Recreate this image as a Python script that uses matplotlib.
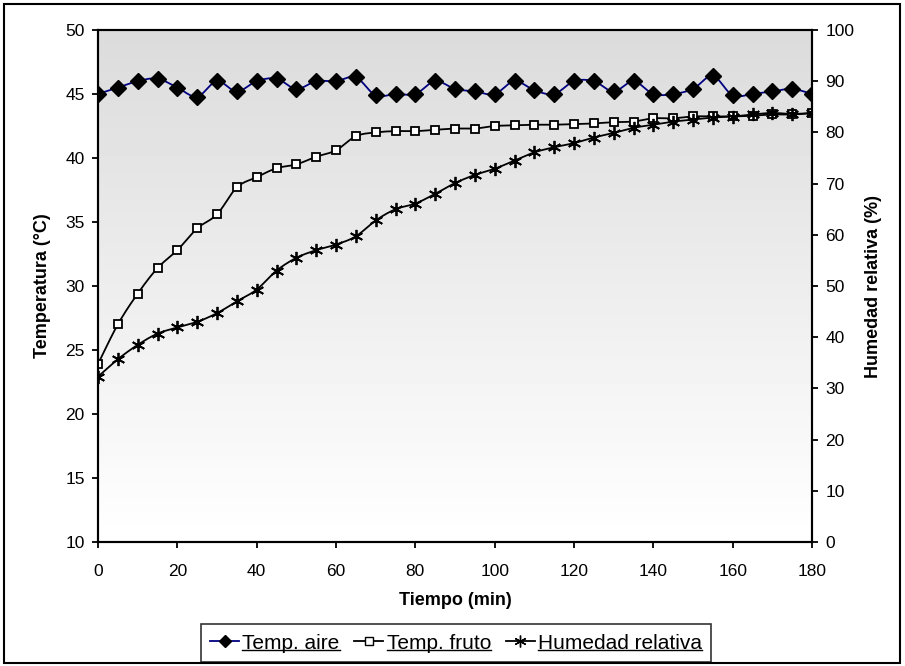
import matplotlib
matplotlib.use("Agg")
import matplotlib.pyplot as plt
import numpy as np
from matplotlib.lines import Line2D
from matplotlib.patches import Rectangle

plt.rcParams['font.family'] = ['Liberation Sans', 'DejaVu Sans']

tiempo = np.arange(0, 181, 5)

temp_aire = [45.0, 45.5, 46.0, 46.2, 45.5, 44.8, 46.0, 45.2, 46.0, 46.2,
             45.4, 46.0, 46.0, 46.3, 44.9, 45.0, 45.0, 46.0, 45.4, 45.2,
             45.0, 46.0, 45.3, 45.0, 46.0, 46.0, 45.2, 46.0, 45.0, 45.0,
             45.4, 46.4, 44.9, 45.0, 45.2, 45.4, 45.0]

temp_fruto = [23.9, 27.0, 29.4, 31.4, 32.8, 34.5, 35.6, 37.7, 38.5, 39.2,
              39.5, 40.1, 40.6, 41.7, 42.0, 42.1, 42.1, 42.2, 42.3, 42.3,
              42.5, 42.55, 42.6, 42.6, 42.65, 42.7, 42.8, 42.85, 43.1, 43.1,
              43.25, 43.25, 43.25, 43.3, 43.4, 43.4, 43.5]

humedad = [32.3, 35.7, 38.5, 40.7, 41.9, 43.0, 44.7, 47.0, 49.3, 53.0,
           55.5, 57.0, 58.1, 59.7, 62.8, 65.0, 66.1, 68.0, 70.1, 71.7,
           72.9, 74.5, 76.1, 77.1, 77.9, 79.0, 79.9, 80.9, 81.5, 82.1,
           82.5, 82.9, 83.1, 83.5, 83.8, 83.6, 83.8]

W, H = 905, 666


def smooth(x, y, n=12):
    # Catmull-Rom curve through the points (smoothed-line style)
    x = np.asarray(x, float)
    y = np.asarray(y, float)
    px = np.concatenate([[x[0]], x, [x[-1]]])
    py = np.concatenate([[y[0]], y, [y[-1]]])
    xs, ys = [], []
    t = np.linspace(0, 1, n, endpoint=False)
    for i in range(1, len(px) - 2):
        for p, out in ((px, xs), (py, ys)):
            p0, p1, p2, p3 = p[i - 1], p[i], p[i + 1], p[i + 2]
            out.extend(0.5 * ((2 * p1) + (-p0 + p2) * t
                              + (2 * p0 - 5 * p1 + 4 * p2 - p3) * t ** 2
                              + (-p0 + 3 * p1 - 3 * p2 + p3) * t ** 3))
    xs.append(x[-1])
    ys.append(y[-1])
    return np.array(xs), np.array(ys)


fig = plt.figure(figsize=(W / 100, H / 100), dpi=100)
ax = fig.add_axes([98 / W, 1 - 542 / H, (812 - 98) / W, (542 - 30) / H])
ax2 = ax.twinx()

# grey-to-white background, darker at the top
grad = np.linspace(1.0, 0.86, 256).reshape(-1, 1)
ax.imshow(grad, cmap='gray', vmin=0, vmax=1, aspect='auto',
          extent=[0, 180, 10, 50], origin='lower', zorder=0)
ax.set_facecolor('white')

xa, ya = smooth(tiempo, temp_aire)
ax.plot(xa, ya, color='#000080', lw=1.3, zorder=3)
ax.plot(tiempo, temp_aire, ls='none', marker='D', ms=8, color='black', zorder=4)

xf, yf = smooth(tiempo, temp_fruto)
ax.plot(xf, yf, color='black', lw=1.3, zorder=3)
ax.plot(tiempo, temp_fruto, ls='none', marker='s', ms=6.2, mfc='white',
        mec='black', mew=1.3, zorder=4)

xh, yh = smooth(tiempo, humedad)
ax2.plot(xh, yh, color='black', lw=1.3, zorder=3)
ax2.plot(tiempo, humedad, ls='none', marker=(6, 2, 0), ms=9.5, mec='black',
         mew=1.3, zorder=4)

ax.set_xlim(0, 180)
ax.set_ylim(10, 50)
ax2.set_ylim(0, 100)
ax.set_xticks(np.arange(0, 181, 20))
ax.set_yticks(np.arange(10, 51, 5))
ax2.set_yticks(np.arange(0, 101, 10))

for a in (ax, ax2):
    for s in a.spines.values():
        s.set_linewidth(1.5)
    a.tick_params(direction='out', length=4.5, width=1.3, labelsize=12.5,
                  colors='black', pad=5)
ax.tick_params(axis='x', pad=11)

ax.set_xlabel('Tiempo (min)', fontsize=13, fontweight='bold', labelpad=10)
ax.set_ylabel('Temperatura (°C)', fontsize=13, fontweight='bold', labelpad=10)
ax2.set_ylabel('Humedad relativa (%)', fontsize=13, fontweight='bold', labelpad=8)

handles = [
    Line2D([], [], color='#000080', lw=1.3, marker='D', ms=6, mfc='black', mec='black'),
    Line2D([], [], color='black', lw=1.3, marker='s', ms=5.5, mfc='white', mec='black'),
    Line2D([], [], color='black', lw=1.3, marker=(6, 2, 0), ms=8.5, mec='black'),
]
leg = fig.legend(handles, ['Temp. aire', 'Temp. fruto', 'Humedad relativa'],
                 loc='lower center', bbox_to_anchor=(456 / W, 4 / H), ncol=3,
                 fontsize=15, frameon=True, fancybox=False, shadow=False,
                 handlelength=1.4, handletextpad=0.15, columnspacing=0.7,
                 borderpad=0.45, borderaxespad=0)
leg.get_frame().set_edgecolor('black')
leg.get_frame().set_linewidth(1.2)

# underline the legend labels
fig.canvas.draw()
r = fig.canvas.get_renderer()
for t in leg.get_texts():
    bb = t.get_window_extent(r)
    y0 = bb.y0 + 2.5
    fig.add_artist(Line2D([bb.x0 / W, bb.x1 / W], [y0 / H, y0 / H],
                          color='black', lw=1.0, zorder=10,
                          transform=fig.transFigure))

# outer frame
fig.add_artist(Rectangle((4 / W, 3 / H), 896 / W, 659 / H, fill=False,
                         edgecolor='black', lw=1.5, zorder=11,
                         transform=fig.transFigure))

fig.savefig('out.png', dpi=100)
